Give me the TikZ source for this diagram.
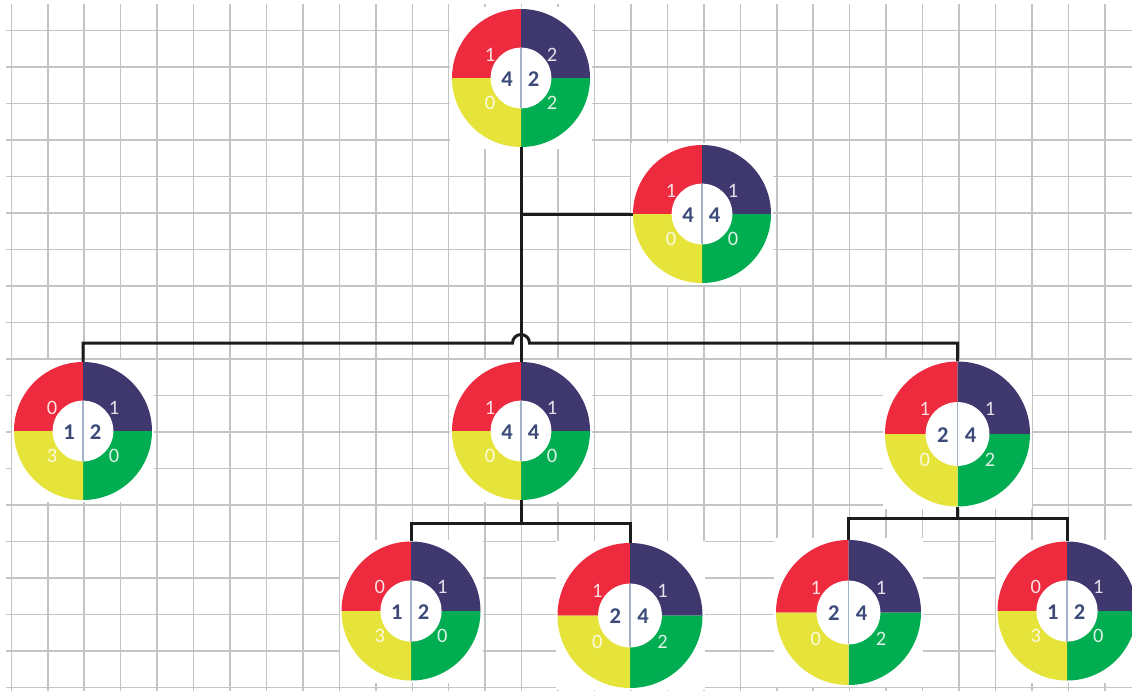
\documentclass[tikz,border=0pt]{standalone}
\usepackage{fontspec}
\setmainfont{Carlito}
\usetikzlibrary{calc}
\definecolor{wred}{HTML}{EE2A3E}
\definecolor{wnavy}{HTML}{3F386E}
\definecolor{wyel}{HTML}{E6E43A}
\definecolor{wgreen}{HTML}{00AD50}
\definecolor{wtxt}{HTML}{3B4A78}
\definecolor{wdiv}{HTML}{A4B2C8}
\definecolor{gridc}{HTML}{C3C5C5}
\definecolor{linec}{HTML}{1C1C1C}
\tikzset{
  gridline/.style={draw=gridc, line width=1.5pt},
  wnode/.style={circle, inner sep=0pt, draw=none},
  olab/.style={text=white, text opacity=0.85, font=\fontsize{20.5}{20.5}\selectfont, inner sep=0pt},
  ilab/.style={text=wtxt, font=\fontsize{22.5}{22.5}\selectfont\bfseries, inner sep=0pt},
  conn/.style={draw=linec, line width=3pt},
}
% #1 name, #2 centre "x,-y", #3 radius, #4 tl, #5 tr, #6 bl, #7 br, #8 inner left, #9 inner right
\newcommand\wheel[9]{%
\begin{scope}[shift={(#2)}]
  \pgfmathsetmacro\wR{#3}
  \pgfmathsetmacro\wri{0.44*#3}
  \fill[white] (-\wR-2,-\wR-2) rectangle (\wR+2,\wR+2);
  \node[wnode, minimum size={2*\wR pt}] (#1) at (0,0) {};
  \fill[wred] (0,0) -- (-\wR,0) arc[start angle=180,end angle=90,radius=\wR pt] -- cycle;
  \fill[wnavy] (0,0) -- (0,\wR) arc[start angle=90,end angle=0,radius=\wR pt] -- cycle;
  \fill[wgreen] (0,0) -- (\wR,0) arc[start angle=0,end angle=-90,radius=\wR pt] -- cycle;
  \fill[wyel] (0,0) -- (0,-\wR) arc[start angle=-90,end angle=-180,radius=\wR pt] -- cycle;
  \fill[white] (0,0) circle[radius=\wri pt];
  \draw[wdiv, line width=1.6pt] (0,\wri) -- (0,-\wri);
  \node[olab] (#1-tl) at (-0.45*\wR, 0.34*\wR) {#4};
  \node[olab] (#1-tr) at (0.45*\wR, 0.34*\wR) {#5};
  \node[olab] (#1-bl) at (-0.45*\wR, -0.36*\wR) {#6};
  \node[olab] (#1-br) at (0.45*\wR, -0.36*\wR) {#7};
  \node[ilab] (#1-il) at (-14*\wR/69, -1) {#8};
  \node[ilab] (#1-ir) at (12.5*\wR/69, -1) {#9};
\end{scope}}
\begin{document}
\begin{tikzpicture}[x=1pt,y=1pt]
\useasboundingbox (0,0) rectangle (1132,-691);
\fill[white] (0,0) rectangle (1132,-691);
% grid
\foreach \k in {0,...,18} \draw[gridline] (6,{-(30.3+36.5*\k)}) -- (1132,{-(30.3+36.5*\k)});
\foreach \k in {0,...,30} \draw[gridline] ({11.3+36.45*\k},-4) -- ({11.3+36.45*\k},-691);
% wheels
\wheel{A}{521,-78}{69}{1}{2}{0}{2}{4}{2}
\wheel{B}{702,-214}{69}{1}{1}{0}{0}{4}{4}
\wheel{C}{83,-431}{69}{0}{1}{3}{0}{1}{2}
\wheel{D}{521,-431}{69}{1}{1}{0}{0}{4}{4}
\wheel{E}{957.5,-434}{72.5}{1}{1}{0}{2}{2}{4}
\wheel{F}{411,-611}{69.5}{0}{1}{3}{0}{1}{2}
\wheel{G}{630,-615.5}{72.5}{1}{1}{0}{2}{2}{4}
\wheel{H}{848.5,-612.5}{72.5}{1}{1}{0}{2}{2}{4}
\wheel{I}{1067,-611}{69.5}{0}{1}{3}{0}{1}{2}
% connectors
\coordinate (bus) at (521,-343);
\coordinate (dbus) at (521,-523);
\coordinate (ebus) at (958,-518.5);
\draw[conn] (A.south) -- (D.north);
\draw[conn] (B.west) -- (B.west -| A.south);
\draw[conn] (C.north) -- (C.north |- bus) -- ([xshift=-8.5pt]bus) arc[start angle=180,end angle=0,radius=8.5pt] -- (E.north |- bus) -- (E.north);
\draw[conn] (D.south) -- (D.south |- dbus);
\draw[conn] (F.north) -- (F.north |- dbus) -- (G.north |- dbus) -- (G.north);
\draw[conn] (E.south) -- (E.south |- ebus);
\draw[conn] (H.north) -- (H.north |- ebus) -- (I.north |- ebus) -- (I.north);
\end{tikzpicture}
\end{document}
